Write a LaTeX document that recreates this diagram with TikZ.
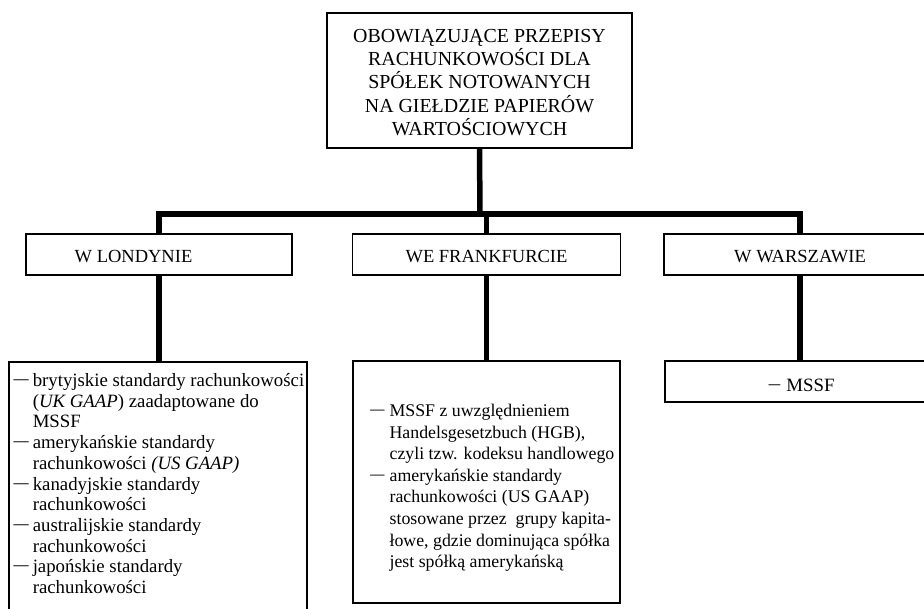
\documentclass[tikz,border=0pt]{standalone}
\usepackage{fontspec}
\setmainfont{Liberation Serif}
\newlength{\listpad}
\newcommand{\listdash}{\hspace*{\listpad}\makebox[21pt][l]{\scalebox{1.75}[1]{−}}}
\newcommand{\listgap}{\hspace*{\listpad}\hspace*{21pt}}
\begin{document}
\begin{tikzpicture}[x=1pt,y=-1pt,
    box/.style={draw,line width=1.3pt,inner sep=0pt},
    region/.style={box,minimum width=268pt,minimum height=41pt,
      text height=16pt,text depth=0pt,
      font=\fontsize{18.5}{22}\selectfont},
    conn/.style={line width=5.5pt}]
  \useasboundingbox (0,0) rectangle (924,608);
  \node[box,minimum width=305pt,minimum height=135pt,align=center,
    font=\fontsize{19.9}{23.3}\selectfont] (top) at (479.5,80.5)
    {\rule{0pt}{17pt}OBOWIĄZUJĄCE PRZEPISY\\RACHUNKOWOŚCI DLA\\SPÓŁEK NOTOWANYCH\\
     NA GIEŁDZIE PAPIERÓW\\WARTOŚCIOWYCH};
  \node[region,minimum width=266pt] (lon) at (159,254.5)
    {W LONDYNIE\hspace*{51pt}};
  \node[region] (fra) at (486.5,254.5) {WE FRANKFURCIE};
  \node[region,minimum width=272pt] (war) at (800,254.5) {W WARSZAWIE};
  \node[box,minimum width=298pt,minimum height=250pt,align=left,
    font=\fontsize{18.8}{20.7}\selectfont\setlength{\listpad}{0pt}] (lonlist) at (158,487)
    {\listdash brytyjskie standardy rachunkowości\\
     \listgap(\textit{UK GAAP}) zaadaptowane do\\
     \listgap MSSF\\
     \listdash amerykańskie standardy\\
     \listgap rachunkowości \textit{(US GAAP)}\\
     \listdash kanadyjskie standardy\\
     \listgap rachunkowości\\
     \listdash australijskie standardy\\
     \listgap rachunkowości\\
     \listdash japońskie standardy\\
     \listgap rachunkowości\rule[-7pt]{0pt}{7pt}};
  \node[box,minimum width=267pt,minimum height=242pt,align=left,
    font=\fontsize{17.8}{21.6}\selectfont\setlength{\listpad}{10pt}] (fralist) at (486.5,482)
    {\listdash MSSF z uwzględnieniem\rule{0pt}{24pt}\\
     \listgap Handelsgesetzbuch (HGB),\\
     \listgap czyli tzw. kodeksu handlowego\\
     \listdash amerykańskie standardy\\
     \listgap rachunkowości (US GAAP)\\
     \listgap stosowane przez\ \ grupy kapita-\\
     \listgap łowe, gdzie dominująca spółka\\
     \listgap jest spółką amerykańską};
  \node[box,minimum width=272pt,minimum height=41pt,
    text height=19.4pt,text depth=0pt,
    font=\fontsize{18.8}{22}\selectfont] (warlist) at (801,381.5)
    {\scalebox{1.35}[1]{−} MSSF};
  \coordinate (split) at (480,214);
  \begin{scope}[conn]
    \draw (top.south) -- (split);
    \draw (lon.north) |- (split) -| (war.north);
    \draw (fra.north) -- (fra.north |- split);
    \draw (lon.south) -- (lon.south |- lonlist.north);
    \draw (fra.south) -- (fralist.north);
    \draw (war.south) -- (war.south |- warlist.north);
  \end{scope}
\end{tikzpicture}
\end{document}
